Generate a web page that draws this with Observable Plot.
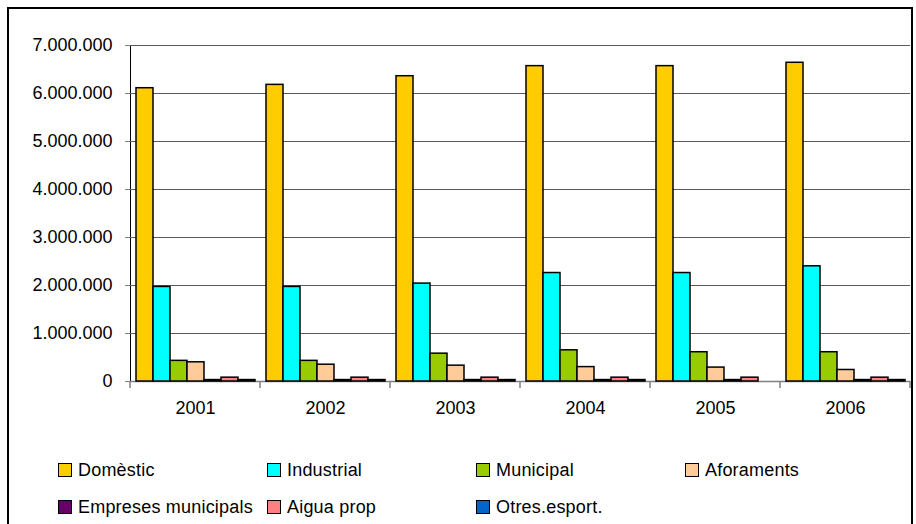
<!DOCTYPE html>
<html>
<head>
<meta charset="utf-8">
<script src="https://cdn.jsdelivr.net/npm/d3@7"></script>
<script src="https://cdn.jsdelivr.net/npm/@observablehq/plot@0.6"></script>
<style>
  html, body { margin: 0; padding: 0; background: #fff; }
  #wrap { position: relative; width: 916px; height: 524px; overflow: hidden; font-family: 'Liberation Sans', Arial, sans-serif; }
  #border { position: absolute; left: 7px; top: 7px; width: 906px; height: 540px; border: 2px solid #000; box-sizing: border-box; }
  #chart { position: absolute; left: 0; top: 0; }
  .lg { position: absolute; display: flex; align-items: center; font-size: 18px; color: #000; white-space: nowrap; letter-spacing: 0.2px; }
  .sw { width: 12px; height: 12px; border: 1px solid #000; margin-right: 6px; }
</style>
</head>
<body>
<div id="wrap">
  <div id="border"></div>
  <div id="chart"></div>
  <div id="legend"></div>
</div>
<script>
const years = ["2001", "2002", "2003", "2004", "2005", "2006"];
const seriesNames = ["Domèstic", "Industrial", "Municipal", "Aforaments", "Empreses municipals", "Aigua prop", "Otres.esport."];
const seriesColors = ["#FFCC00", "#00FFFF", "#99CC00", "#FFCC99", "#660066", "#FF8080", "#0066CC"];

const domestic   = [6110000, 6180000, 6360000, 6570000, 6570000, 6640000];
const industrial = [1970000, 1970000, 2040000, 2260000, 2260000, 2400000];
const municipal  = [430000, 430000, 580000, 650000, 610000, 610000];
const aforaments = [400000, 350000, 330000, 300000, 290000, 240000];
const empreses   = [30000, 30000, 30000, 30000, 30000, 30000];
const aiguaProp  = [80000, 80000, 80000, 80000, 80000, 80000];
const otres      = [30000, 30000, 30000, 30000, 0, 30000];

const yTicks = [0, 1000000, 2000000, 3000000, 4000000, 5000000, 6000000, 7000000];
const yGrid = yTicks.slice(1);

const seriesValues = [domestic, industrial, municipal, aforaments, empreses, aiguaProp, otres];
const rows = years.flatMap((yr, i) => seriesNames.map((s, j) => ({year: yr, series: s, value: seriesValues[j][i]})));

const fmt = d => d3.format(",")(d).replace(/,/g, ".");

const chart = Plot.plot({
  width: 916,
  height: 440,
  marginLeft: 128,
  marginRight: 4,
  marginTop: 45,
  marginBottom: 59,
  style: {fontFamily: "'Liberation Sans', Arial, sans-serif", fontSize: "18px", color: "#000", background: "transparent", overflow: "visible"},
  facet: {data: rows, x: "year"},
  fx: {domain: years, padding: 0, axis: null},
  x: {domain: seriesNames, paddingInner: 0, paddingOuter: 0.3, axis: null},
  y: {domain: [0, 7000000], ticks: yTicks, tickFormat: fmt, tickSize: 5, tickPadding: 13, line: true, label: null},
  color: {domain: seriesNames, range: seriesColors},
  marks: [
    Plot.ruleY(yGrid, {stroke: "#5a5a5a", strokeWidth: 1}),
    Plot.ruleY([0], {stroke: "#808080", strokeWidth: 1.5}),
    Plot.barY(rows, {filter: d => d.value > 0, x: "series", y: "value", fill: "series", stroke: "#000", strokeWidth: 1.5}),
    Plot.text(rows, {filter: d => d.series === seriesNames[0], text: "year", frameAnchor: "bottom", dy: 32, fontSize: 18})
  ]
});
document.getElementById("chart").appendChild(chart);

// boundary ticks along category axis, placed from the fx scale
try {
  const fxs = chart.scale("fx");
  const svg = d3.select(chart);
  const bw = fxs.bandwidth;
  const edges = years.map(y => fxs.apply(y)).concat([fxs.apply(years[years.length - 1]) + bw]);
  const ys = chart.scale("y");
  const y0 = ys.apply(0);
  svg.append("g").selectAll("line").data(edges).join("line")
    .attr("x1", d => d).attr("x2", d => d)
    .attr("y1", y0).attr("y2", y0 + 7)
    .attr("stroke", "#808080").attr("stroke-width", 1.5);
} catch (e) { console.error(e); }

// gray y tick marks
d3.select(chart).selectAll("g[aria-label='y-axis tick'] path").attr("stroke", "#808080");

// legend
const legendCols = 4;
const legend = document.getElementById("legend");
seriesNames.forEach((s, i) => {
  const col = i % legendCols, row = Math.floor(i / legendCols);
  const el = document.createElement("div");
  el.className = "lg";
  el.style.left = (58 + col * 209) + "px";
  el.style.top = (460 + row * 37) + "px";
  el.style.height = "20px";
  el.innerHTML = `<span class="sw" style="background:${seriesColors[i]}"></span><span>${s}</span>`;
  legend.appendChild(el);
});
</script>
</body>
</html>
